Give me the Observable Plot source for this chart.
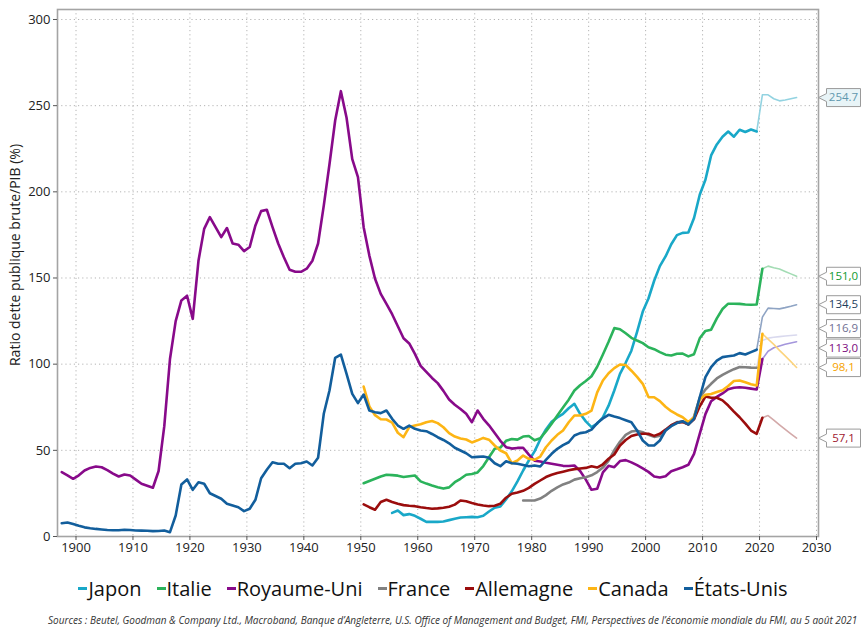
<!DOCTYPE html>
<html><head><meta charset="utf-8">
<script src="https://cdn.jsdelivr.net/npm/d3@7"></script>
<script src="https://cdn.jsdelivr.net/npm/@observablehq/plot@0.6"></script>
<style>
body{margin:0;background:#fff;font-family:"Open Sans",sans-serif;}
#chart{width:866px;height:560px;}
#legend{display:flex;justify-content:center;align-items:center;gap:15px;font-size:20px;color:#111;height:30px;margin-top:13px;white-space:nowrap;}
#legend .it{display:flex;align-items:center;}
#legend .mk{display:inline-block;width:9px;height:3px;margin-right:1px;}
#caption{font-size:10px;font-style:italic;color:#333;white-space:nowrap;padding-left:48px;margin-top:10px;}
</style></head><body>
<div id="chart"></div>
<div id="legend"></div>
<div id="caption">Sources : Beutel, Goodman &amp; Company Ltd., Macroband, Banque d’Angleterre, U.S. Office of Management and Budget, FMI, Perspectives de l’économie mondiale du FMI, au 5 août 2021</div>
<script>
// ---- data ----
const countries = ["Japon","Italie","Royaume-Uni","France","Allemagne","Canada","États-Unis"];
const colors = ["#19a8c8","#2bb35b","#880a8a","#818181","#9b0d0d","#fdb515","#125e9c"];
const projColors = ["#93d3e1","#a3dcb4","#a496dc","#d9d9ee","#d3a9a9","#fcd47e","#8fa4c4"];
const startYears = [1955, 1950, 1897, 1978, 1950, 1950, 1897];

const japonValues = [13.7,15.1,12.4,13,12,10.3,8.5,8.5,8.5,8.7,
  9.5,10.3,11,11.2,11.4,11.2,12,14.5,16.7,17.4,
  21.5,26.2,32,38.3,44.1,49.4,56.3,62.1,66.5,69.1,
  71.2,74.4,77,71.2,66.8,63.5,65.5,69.2,75.9,84.7,
  94.4,100.8,107.8,118.7,130.5,138.1,148.4,156.9,162.5,169.6,
  174.9,176.2,176.4,184.8,198.3,207,221.1,227.5,232,235,
  232,236,234.7,236.2,235];
const italieValues = [30.9,32.2,33.5,34.8,35.8,35.6,35.3,34.5,35,35.4,
  32,30.7,29.6,28.6,27.8,28.5,31.5,33.5,35.8,36.3,
  37.2,40.9,46,50.9,51.6,55.5,56.6,56.2,58,58.3,
  55.8,57,61,65.4,70.2,74.8,79.4,84.7,87.8,90.2,
  93,98.5,105.6,113,120.9,120.3,117.9,115.3,113.7,112.2,
  109.8,108.7,107,105.5,105,106,106.1,104.5,105.8,115,
  119.3,120,126.6,132,135.1,135.1,135,134.6,134.5,134.6,
  155.4];
const royaumeUniValues = [37.3,35.5,33.5,35.5,38.3,39.8,40.6,40.2,38.5,36.5,
  34.8,36,35.4,33,30.6,29.5,28.3,38,64,103,
  125,137,139.7,126.3,160,178.5,185.3,179.5,173.7,179,
  170,169.3,165.6,168,180.5,188.8,189.6,179.5,170,162,
  154.8,153.6,153.6,155.4,160,170,192,216,241.4,258.4,
  243,219,208.5,179.5,163,149.6,140.8,135,129,122,
  115,112,106,99,95.5,92,89,84.5,79.5,76.5,
  74,71.2,66.3,73.1,68.3,64.5,60,55.5,51.8,51,
  51.4,51.5,47.5,44,43.5,42.8,42.2,41.6,41,40.9,
  41.2,38,33,27.1,27.7,37.2,41,40.2,43.8,44.3,
  43,41.4,39.5,37.5,34.8,34.2,35,37.9,39,40.2,
  41.6,48,59.6,71,78.5,81,83,85.5,86.3,86.6,
  86.3,85.8,85.3,103];
const franceValues = [20.9,20.9,20.9,22,24,26.5,28.5,30.2,31.3,33,
  33.8,34.4,35.5,37.4,40,44,50,55,59,60.9,
  61.4,60.5,59,57.8,58.5,61.5,64.5,66.4,66.5,65,
  69.5,80.5,85.3,88.6,91.7,93.8,95.5,97.1,98.3,98.2,
  98,97.9];
const allemagneValues = [18.6,17,15.5,20,21.3,20,19,18.2,17.8,17.6,
  17,16.5,16.1,16.3,16.7,17.3,18.5,20.9,20.5,19.5,
  18.6,18,17.6,17.8,19,22.5,24.8,25.5,26.5,28.2,
  30.5,32.5,34.5,35.8,36.8,37.6,38.4,39.1,39.5,39.8,
  40.8,40,41.9,45.1,47.6,52.8,56,58.3,59.2,59.6,
  59.6,58.4,59.6,62,64.6,66.1,66.5,65.1,68,75.6,
  81.2,80.5,80.5,79,76,72.5,69.2,65.5,61.5,59.6,
  68.9];
const canadaValues = [87,75.5,70.4,68,67.9,66.1,60.2,57.6,63.5,64.4,
  65.1,66.3,67,65.8,63.4,60,58,56.9,56.3,54.6,
  55.8,57.2,56.2,52.8,49.9,48.3,42.5,44.1,47,45.1,
  44.5,46.4,51.8,55.7,59,61.5,66.3,70.2,70.2,71.2,
  73.1,83.6,90.5,94.7,97.7,99.8,99.5,96.2,92.6,88.6,
  80.9,80.8,78.6,75.3,72.7,70.8,69.2,66.5,69.2,79.5,
  82.2,82.7,83.8,84.8,87.3,90.2,90.5,89.5,88.4,87.6,
  117.6];
const etatsUnisValues = [7.7,8.1,7.2,6.2,5.3,4.8,4.4,4.1,3.8,3.6,
  3.6,3.9,3.8,3.5,3.4,3.3,3.1,3.2,3.5,2.5,
  12.2,30.2,33.1,27.1,31.5,30.6,25.1,23.5,21.9,19,
  18,17,14.7,16.1,21.3,33.8,38.7,43.1,42.2,42.2,
  39.6,42.2,42.5,43.5,41.2,45.7,71.2,84.7,103.7,105.6,
  94.4,82.8,77.4,82.4,73.1,72.1,71.6,73.1,68.3,64.4,
  62.5,64.4,62.5,61.5,61.1,59.5,57.6,56,54.1,51.5,
  49.9,48.3,46,46.2,46.4,45.7,42.5,40.8,43.7,42.5,
  42.2,41.5,40.8,41.2,40.6,44.5,48,50.9,53,54.7,
  58.6,60,60.5,62,65.8,68.5,70.6,69.6,68.7,67.5,
  66.3,61.5,55.7,52.8,52.8,55.7,61.5,64,65.8,66.9,
  65,68.3,80.8,92.5,98.3,102,104.1,104.6,105,106.4,
  105.6,107,108.4];

// IMF projections (first value = last observed year), up to 2026
const japonProj = [235,256.3,256.3,254,252.8,253.3,254,254.7];
const italieProj = [155.4,156.9,156,155.2,153.8,152.4,151];
const royaumeUniProj = [103,107.5,109.5,110.5,111.5,112.3,113];
const franceProj = [97.9,113.8,115.1,115.6,116,116.3,116.6,116.9];
const allemagneProj = [68.9,70.2,67.5,64.8,62.2,59.6,57.1];
const canadaProj = [117.6,114.5,111.5,108,104.8,101.5,98.1];
const etatsUnisProj = [108.4,127.3,132.5,132.3,132.1,132.8,133.6,134.5];

const labelTexts = ["254.7","151,0","113,0","116,9","57,1","98,1","134,5"];
const labelTextColors = ["#5f98ae","#0f9a30","#7d0c80","#6f6f93","#a01830","#f5a300","#1e3d5c"];
const labelFills = ["#e8f4f7","#ffffff","#ffffff","#ffffff","#ffffff","#ffffff","#ffffff"];

const yTicks = [0,50,100,150,200,250,300];
const xTickYears = [1900,1910,1920,1930,1940,1950,1960,1970,1980,1990,2000,2010,2020,2030];
const yTitle = "Ratio dette publique brute/PIB (%)";

// ---- build ----
const W = 866, H = 560, mT = 9, mB = 24, mL = 57, mR = 48;
const yMax = 305.8;
function yearDate(y){const y0=Math.floor(y),f=y-y0;const a=Date.UTC(y0,0,1),b=Date.UTC(y0+1,0,1);return new Date(a+f*(b-a));}
const midYear = y => yearDate(y+0.5);
const actuals = [japonValues,italieValues,royaumeUniValues,franceValues,allemagneValues,canadaValues,etatsUnisValues];
const projs = [japonProj,italieProj,royaumeUniProj,franceProj,allemagneProj,canadaProj,etatsUnisProj];
const rows = (start, vals) => vals.map((v,i)=>({date: midYear(start+i), value: v}));

const marks = [];
const xTicks = xTickYears.map(y=>yearDate(y));
marks.push(Plot.gridX(xTicks,{stroke:"#b4b4b4",strokeOpacity:1,strokeDasharray:"1.2,3"}));
marks.push(Plot.gridY(yTicks,{stroke:"#b4b4b4",strokeOpacity:1,strokeDasharray:"1.2,3"}));
projs.forEach((p,i)=>{
  const lastYear = startYears[i] + actuals[i].length - 1;
  marks.push(Plot.line(rows(lastYear,p),{x:"date",y:"value",stroke:projColors[i],strokeWidth:1.6}));
});
actuals.forEach((a,i)=>{
  marks.push(Plot.line(rows(startYears[i],a),{x:"date",y:"value",stroke:colors[i],strokeWidth:2.6}));
});
marks.push(Plot.frame({stroke:"#a4a4a4",strokeWidth:1.6}));
marks.push(Plot.axisX(xTicks,{tickFormat:d3.utcFormat("%Y"),tickSize:4,tickPadding:2,fontSize:13,label:null,stroke:"#555"}));
marks.push(Plot.axisY(yTicks,{tickSize:4,tickPadding:3,fontSize:13,label:null,stroke:"#555"}));
marks.push(Plot.text([yTitle],{text:d=>d,frameAnchor:"left",textAnchor:"middle",dx:-42,dy:-18,rotate:-90,fontSize:14,fill:"#222"}));

// end-of-series callouts, spread apart when they would overlap
const plotH = H - mT - mB;
const minGap = 19.5 * yMax / plotH;
const labels = countries.map((c,i)=>({i, value: projs[i][projs[i].length-1]}));
const sorted = labels.slice().sort((a,b)=>b.value-a.value);
sorted.forEach(d=>d.ly=d.value);
for(let it=0;it<200;it++){let moved=false;for(let k=1;k<sorted.length;k++){const g=sorted[k-1].ly-sorted[k].ly;if(g<minGap-1e-6){const s=(minGap-g)/2;sorted[k-1].ly+=s;sorted[k].ly-=s;moved=true;}}if(!moved)break;}
const callout = {draw(ctx){ctx.moveTo(0,0);ctx.lineTo(8,-4);ctx.lineTo(8,-9);ctx.lineTo(42,-9);ctx.lineTo(42,9);ctx.lineTo(8,9);ctx.lineTo(8,4);ctx.closePath();}};
labels.forEach(d=>{
  marks.push(Plot.dot([d],{y:"ly",frameAnchor:"right",symbol:callout,r:1,fill:labelFills[d.i],stroke:"#9a9a9a",strokeWidth:1}));
  marks.push(Plot.text([d],{y:"ly",frameAnchor:"right",dx:25,text:()=>labelTexts[d.i],fill:labelTextColors[d.i],fontSize:11.5,textAnchor:"middle"}));
});

const chart = Plot.plot({
  width: W, height: H, marginTop: mT, marginBottom: mB, marginLeft: mL, marginRight: mR,
  x: {type:"utc", domain:[yearDate(1896.75), yearDate(2030.35)]},
  y: {domain:[0,yMax]},
  style: {fontFamily:"'Open Sans', sans-serif", color:"#222", background:"#fff", overflow:"visible"},
  marks
});
document.getElementById("chart").appendChild(chart);

const legend = document.getElementById("legend");
countries.forEach((c,i)=>{
  const it = document.createElement("div"); it.className="it";
  const mk = document.createElement("span"); mk.className="mk"; mk.style.background=colors[i];
  const tx = document.createElement("span"); tx.textContent=c;
  it.appendChild(mk); it.appendChild(tx); legend.appendChild(it);
});
</script>
</body></html>
